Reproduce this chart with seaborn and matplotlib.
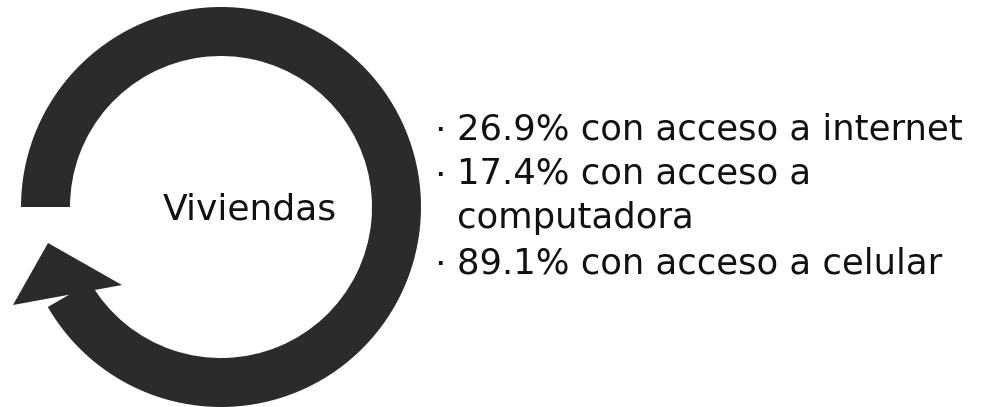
import matplotlib
matplotlib.use("Agg")
import matplotlib.pyplot as plt
from matplotlib.patches import Wedge, Polygon
import seaborn as sns

# data
center_label = "Viviendas"
percentages = [26.9, 17.4, 89.1]
items = ["con acceso a internet", "con acceso a\ncomputadora", "con acceso a celular"]

sns.set_theme(style="white")
plt.rcParams['font.family'] = ['DejaVu Sans']

W, H = 986, 407
fig = plt.figure(figsize=(W / 100, H / 100), dpi=100)
ax = fig.add_axes([0, 0, 1, 1])
ax.set_xlim(0, W)
ax.set_ylim(0, H)
ax.set_axis_off()

ring_color = "#2b2b2b"
cx, cy = 221, 200
r_out, r_in = 200, 151

# circular arrow body: from the left side, clockwise round to lower-left
ax.add_patch(Wedge((cx, cy), r_out, -150, 180, width=r_out - r_in,
                   facecolor=ring_color, edgecolor="none"))
# arrow head
ax.add_patch(Polygon([(13, 102), (48, 164), (122, 122)], closed=True,
                     facecolor=ring_color, edgecolor="none"))

ax.text(250, 187, center_label, fontsize=26, color="#111111",
        ha="center", va="baseline")

# bullet list
y = 268
line_h = 44.7
x_bullet, x_text = 440, 457
for pct, item in zip(percentages, items):
    lines = f"{pct:.1f}% {item}".split("\n")
    ax.text(x_bullet, y - 2, "·", fontsize=26, color="#111111",
            ha="center", va="baseline")
    for ln in lines:
        ax.text(x_text, y, ln, fontsize=25.5, color="#111111",
                ha="left", va="baseline")
        y -= line_h

fig.savefig("out.png", dpi=100, facecolor="white")
